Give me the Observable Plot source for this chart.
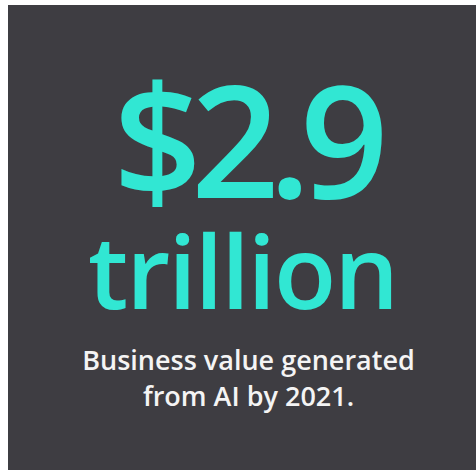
<!DOCTYPE html>
<html>
<head>
<meta charset="utf-8">
<script src="https://cdn.jsdelivr.net/npm/d3@7"></script>
<script src="https://cdn.jsdelivr.net/npm/@observablehq/plot@0.6"></script>
<style>
  html, body { margin: 0; padding: 0; background: #ffffff; }
  #chart svg { display: block; }
  .headline text { letter-spacing: -11px; }
  .unit text { letter-spacing: -2px; }
</style>
</head>
<body>
<div id="chart"></div>
<script>
// Data
const headline = ["$2.9"];
const unit = ["trillion"];
const caption = ["Business value generated\nfrom AI by 2021."];

// Layout (pixels in a 476x470 canvas)
const W = 476, H = 470;
const panel = [{x1: 8, x2: 476, y1: 5, y2: 470}];

const chart = Plot.plot({
  width: W,
  height: H,
  margin: 0,
  x: {type: "linear", domain: [0, W], range: [0, W], axis: null},
  y: {type: "linear", domain: [0, H], range: [0, H], axis: null},
  style: {background: "#ffffff", fontFamily: "'Open Sans', sans-serif"},
  marks: [
    Plot.rect(panel, {x1: "x1", x2: "x2", y1: "y1", y2: "y2", fill: "#3e3d42"}),
    Plot.text(headline, {
      text: d => d, x: () => 245, y: () => 87,
      lineAnchor: "top", textAnchor: "middle",
      fontSize: 155, fill: "#31e7d3", fontWeight: 600,
      className: "headline"
    }),
    Plot.text(unit, {
      text: d => d, x: () => 242, y: () => 236,
      lineAnchor: "top", textAnchor: "middle",
      fontSize: 102, fill: "#31e7d3", fontWeight: 600,
      className: "unit"
    }),
    Plot.text(caption, {
      text: d => d, x: () => 248, y: () => 344,
      lineAnchor: "top", textAnchor: "middle",
      fontSize: 27, lineHeight: 1.34, fill: "#f4f4f4", fontWeight: 600
    })
  ]
});
document.getElementById("chart").appendChild(chart);
</script>
</body>
</html>
